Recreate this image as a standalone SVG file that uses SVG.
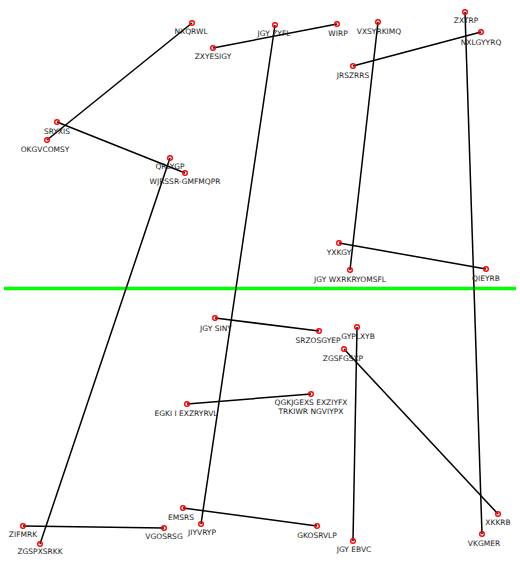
<svg xmlns="http://www.w3.org/2000/svg" width="520" height="564" viewBox="0 0 520 564">
<style>
.e{stroke:#000;stroke-width:1.5;fill:none}
.n{fill:none;stroke:#f00;stroke-width:1.4}
text{font-family:"DejaVu Sans",sans-serif;font-size:7.5px;fill:#222;text-anchor:middle}
</style>
<rect width="520" height="564" fill="#fff"/>
<line x1="4" y1="288.5" x2="516" y2="288.5" stroke="#0f0" stroke-width="3.5"/>
<g id="edges">
<line class="e" x1="192" y1="23" x2="47" y2="140"/>
<line class="e" x1="213" y1="48" x2="337" y2="24"/>
<line class="e" x1="275" y1="25" x2="201" y2="524"/>
<line class="e" x1="378" y1="22" x2="350" y2="270"/>
<line class="e" x1="481" y1="32" x2="353" y2="66"/>
<line class="e" x1="465" y1="12" x2="482" y2="534"/>
<line class="e" x1="57" y1="122" x2="185" y2="173"/>
<line class="e" x1="170" y1="158" x2="40" y2="544"/>
<line class="e" x1="339" y1="243" x2="486" y2="269"/>
<line class="e" x1="215" y1="318" x2="319" y2="331"/>
<line class="e" x1="357" y1="327" x2="353" y2="541"/>
<line class="e" x1="344" y1="349" x2="498" y2="514"/>
<line class="e" x1="187" y1="404" x2="311" y2="394"/>
<line class="e" x1="23" y1="526" x2="164" y2="528"/>
<line class="e" x1="183" y1="508" x2="317" y2="526"/>
</g>
<g id="NXQRWL"><circle class="n" cx="192" cy="23" r="2.3"/><text x="191" y="34">NXQRWL</text></g>
<g id="JGY_ZYFL"><circle class="n" cx="275" cy="25" r="2.3"/><text x="274" y="36">JGY ZYFL</text></g>
<g id="WIRP"><circle class="n" cx="337" cy="24" r="2.3"/><text x="338" y="36">WIRP</text></g>
<g id="ZXYESIGY"><circle class="n" cx="213" cy="48" r="2.3"/><text x="213" y="59">ZXYESIGY</text></g>
<g id="VXSYRKIMQ"><circle class="n" cx="378" cy="22" r="2.3"/><text x="379" y="34">VXSYRKIMQ</text></g>
<g id="ZXTRP"><circle class="n" cx="465" cy="12" r="2.3"/><text x="466" y="23">ZXTRP</text></g>
<g id="NXLGYYRQ"><circle class="n" cx="481" cy="32" r="2.3"/><text x="481" y="45">NXLGYYRQ</text></g>
<g id="JRSZRRS"><circle class="n" cx="353" cy="66" r="2.3"/><text x="353" y="78">JRSZRRS</text></g>
<g id="SRYXIS"><circle class="n" cx="57" cy="122" r="2.3"/><text x="57" y="134">SRYXIS</text></g>
<g id="OKGVCOMSY"><circle class="n" cx="47" cy="140" r="2.3"/><text x="45" y="152">OKGVCOMSY</text></g>
<g id="QRLYGP"><circle class="n" cx="170" cy="158" r="2.3"/><text x="170" y="169">QRLYGP</text></g>
<g id="WJRSSR-GMFMQPR"><circle class="n" cx="185" cy="173" r="2.3"/><text x="185" y="184">WJRSSR-GMFMQPR</text></g>
<g id="YXKGY"><circle class="n" cx="339" cy="243" r="2.3"/><text x="339" y="255">YXKGY</text></g>
<g id="JGY_WXRKRYOMSFL"><circle class="n" cx="350" cy="270" r="2.3"/><text x="350" y="282">JGY WXRKRYOMSFL</text></g>
<g id="QIEYRB"><circle class="n" cx="486" cy="269" r="2.3"/><text x="486" y="281">QIEYRB</text></g>
<g id="JGY_SINY"><circle class="n" cx="215" cy="318" r="2.3"/><text x="216" y="331">JGY SINY</text></g>
<g id="SRZOSGYEP"><circle class="n" cx="319" cy="331" r="2.3"/><text x="318" y="343">SRZOSGYEP</text></g>
<g id="GYPLXYB"><circle class="n" cx="357" cy="327" r="2.3"/><text x="358" y="339">GYPLXYB</text></g>
<g id="ZGSFGSXP"><circle class="n" cx="344" cy="349" r="2.3"/><text x="343" y="361">ZGSFGSXP</text></g>
<g id="EGKI_I_EXZRYRVL"><circle class="n" cx="187" cy="404" r="2.3"/><text x="186" y="416">EGKI I EXZRYRVL</text></g>
<g id="QGKJGEXS"><circle class="n" cx="311" cy="394" r="2.3"/><text x="311" y="405">QGKJGEXS EXZIYFX</text><text x="311" y="414">TRKIWR NGVIYPX</text></g>
<g id="ZIFMRK"><circle class="n" cx="23" cy="526" r="2.3"/><text x="23" y="537">ZIFMRK</text></g>
<g id="ZGSPXSRKK"><circle class="n" cx="40" cy="544" r="2.3"/><text x="40" y="554">ZGSPXSRKK</text></g>
<g id="VGOSRSG"><circle class="n" cx="164" cy="528" r="2.3"/><text x="164" y="539">VGOSRSG</text></g>
<g id="EMSRS"><circle class="n" cx="183" cy="508" r="2.3"/><text x="181" y="520">EMSRS</text></g>
<g id="JIYVRYP"><circle class="n" cx="201" cy="524" r="2.3"/><text x="202" y="535">JIYVRYP</text></g>
<g id="GKOSRVLP"><circle class="n" cx="317" cy="526" r="2.3"/><text x="317" y="538">GKOSRVLP</text></g>
<g id="JGY_EBVC"><circle class="n" cx="353" cy="541" r="2.3"/><text x="354" y="552">JGY EBVC</text></g>
<g id="XKKRB"><circle class="n" cx="498" cy="514" r="2.3"/><text x="498" y="525">XKKRB</text></g>
<g id="VKGMER"><circle class="n" cx="482" cy="534" r="2.3"/><text x="484" y="546">VKGMER</text></g>
</svg>
